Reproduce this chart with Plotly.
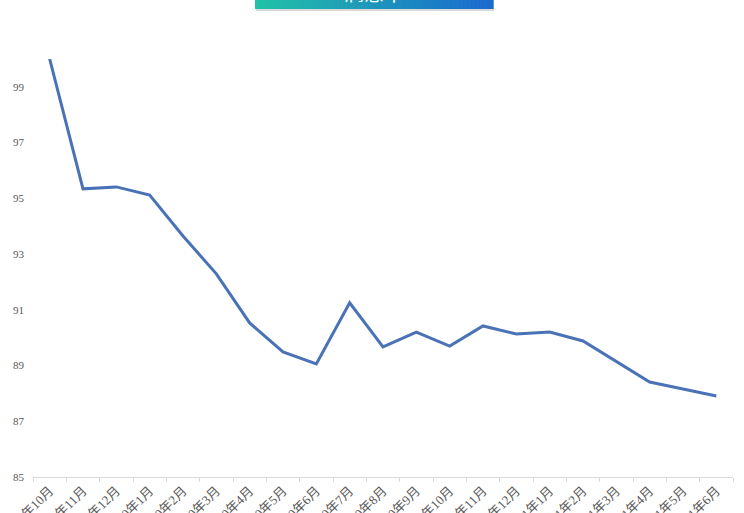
import plotly.graph_objects as go

months = ["2019年10月", "2019年11月", "2019年12月", "2020年1月", "2020年2月", "2020年3月",
          "2020年4月", "2020年5月", "2020年6月", "2020年7月", "2020年8月", "2020年9月",
          "2020年10月", "2020年11月", "2020年12月", "2021年1月", "2021年2月", "2021年3月",
          "2021年4月", "2021年5月", "2021年6月"]
values = [100.0, 95.34, 95.41, 95.12, 93.65, 92.29, 90.53, 89.49, 89.06, 91.25, 89.67,
          90.2, 89.7, 90.42, 90.13, 90.2, 89.88, 89.13, 88.41, 88.16, 87.91]
y_ticks = [85, 87, 89, 91, 93, 95, 97, 99]
title_text = "满意率"

W, H = 744, 513
L, R, T, B = 33, 11, 59, 36
pw, ph = W - L - R, H - T - B

def px_x(px):
    return (px - L) / pw

def px_y(py):
    return (H - B - py) / ph

fig = go.Figure()
fig.add_trace(go.Scatter(x=months, y=values, mode="lines",
                         line=dict(color="#4a72b6", width=3), hoverinfo="x+y"))

# gradient title box made of thin strips
shapes = []
x0, x1 = 255, 493
yb, yt = 9, -12
n = 60
c0 = (34, 194, 166)
c1 = (26, 106, 208)
# shadow
shapes.append(dict(type="rect", xref="paper", yref="paper",
                   x0=px_x(x0 + 1), x1=px_x(x1 + 1), y0=px_y(yb + 2), y1=px_y(yt),
                   fillcolor="rgba(0,0,0,0.15)", line=dict(width=0), layer="below"))
for i in range(n):
    t = i / (n - 1)
    c = tuple(int(c0[k] + (c1[k] - c0[k]) * t) for k in range(3))
    xa = x0 + (x1 - x0) * i / n
    xb = x0 + (x1 - x0) * (i + 1) / n + 0.6
    shapes.append(dict(type="rect", xref="paper", yref="paper",
                       x0=px_x(xa), x1=px_x(xb), y0=px_y(yb), y1=px_y(yt),
                       fillcolor="rgb(%d,%d,%d)" % c, line=dict(width=0), layer="below"))

fig.update_layout(
    width=W, height=H,
    margin=dict(l=L, r=R, t=T, b=B, autoexpand=False),
    paper_bgcolor="white", plot_bgcolor="white",
    showlegend=False,
    shapes=shapes,
    annotations=[dict(text=title_text, xref="paper", yref="paper",
                      x=px_x(374), y=px_y(9), xanchor="center", yanchor="bottom",
                      showarrow=False,
                      font=dict(color="white", size=20, family="Noto Sans CJK SC"))],
    xaxis=dict(type="category", range=[-0.5, len(months) - 0.5],
               showline=True, linecolor="#d9d9d9", linewidth=1,
               ticks="outside", ticklen=4, tickcolor="#d9d9d9", tickson="boundaries",
               tickangle=-45, automargin=False, showgrid=False, zeroline=False,
               tickfont=dict(size=13, color="#595959",
                             family="Liberation Serif, Noto Sans CJK SC")),
    yaxis=dict(range=[85, 100], tickvals=y_ticks, showgrid=False, zeroline=False,
               showline=False, automargin=False, ticks="", ticklabelstandoff=8,
               tickfont=dict(size=11, color="#595959", family="Liberation Serif")),
)

fig.write_html("out.html", config={"displayModeBar": False},
               post_script="document.body.style.margin='0';document.body.style.overflow='hidden';")
